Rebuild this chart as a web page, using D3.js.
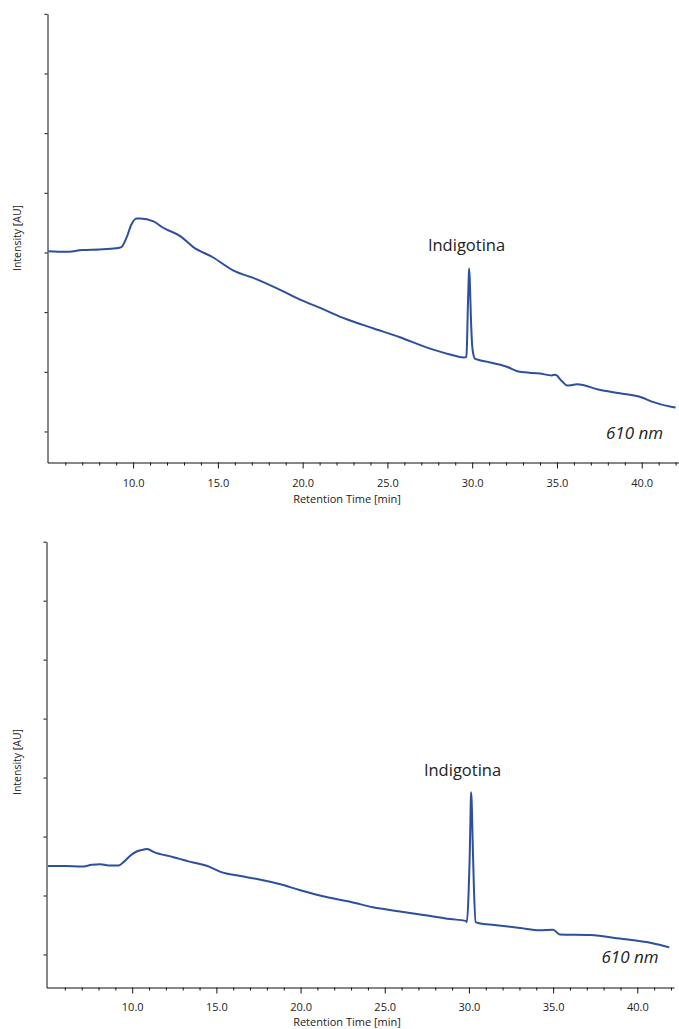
<!DOCTYPE html>
<html>
<head>
<meta charset="utf-8">
<script src="https://cdn.jsdelivr.net/npm/d3@7"></script>
<style>
  html, body { margin: 0; padding: 0; background: #fff; }
  svg { display: block; }
  text { font-family: "Open Sans", "Noto Sans", sans-serif; fill: #222; }
</style>
</head>
<body>
<script>
// ---------- data ----------
const peakLabel = "Indigotina";
const wavelengthLabel = "610 nm";
const xTitle = "Retention Time [min]";
const yTitle = "Intensity [AU]";

const majorTicks = [10, 15, 20, 25, 30, 35, 40];
const minorTicks = d3.range(6, 43).filter(t => t % 5 !== 0);
const yTicks = [0, 1, 2, 3, 4, 5, 6, 7];

// upper chromatogram
const topTime = [5.0, 6.0, 7.0, 8.0, 9.0, 9.3, 9.6, 9.9, 10.2, 10.43, 11.2, 11.8, 12.8, 13.55, 14.7,
  15.9, 17.3, 18.7, 19.7, 21.2, 22.6, 24.15, 25.74, 27.3, 28.7, 29.5, 29.66, 29.7, 29.74, 29.79,
  29.82, 29.86, 29.92, 30.0, 30.08, 30.16, 30.5, 31.0, 32.0, 32.8, 34.0, 34.7, 34.9, 35.3, 35.6,
  36.2, 37.5, 38.7, 40.0, 40.6, 41.8, 42.0];
const topIntensity = [3.02, 3.01, 3.04, 3.05, 3.07, 3.09, 3.24, 3.47, 3.57, 3.57, 3.52, 3.41, 3.27, 3.09, 2.92,
  2.70, 2.55, 2.37, 2.23, 2.05, 1.88, 1.73, 1.58, 1.41, 1.29, 1.24, 1.25, 1.53, 2.03, 2.53,
  2.73, 2.53, 1.95, 1.44, 1.28, 1.22, 1.19, 1.16, 1.09, 1.00, 0.97, 0.94, 0.95, 0.84, 0.77,
  0.79, 0.70, 0.64, 0.57, 0.50, 0.41, 0.40];

// lower chromatogram
const bottomTime = [5.0, 6.0, 7.0, 7.6, 8.1, 8.6, 9.2, 9.5, 9.9, 10.3, 10.7, 10.9, 11.26, 12.45, 13.46,
  14.47, 15.24, 16.43, 17.42, 18.8, 19.99, 21.6, 23.0, 24.3, 25.9, 27.3, 28.9, 29.8, 29.88, 29.98,
  30.04, 30.09, 30.12, 30.16, 30.22, 30.3, 30.4, 30.6, 31.5, 33.05, 34.2, 35.0, 35.4, 37.2, 38.96,
  40.9, 41.9];
const bottomIntensity = [1.50, 1.50, 1.49, 1.52, 1.53, 1.51, 1.51, 1.57, 1.68, 1.75, 1.78, 1.79, 1.74, 1.65, 1.57,
  1.50, 1.40, 1.33, 1.28, 1.19, 1.09, 0.97, 0.89, 0.80, 0.73, 0.67, 0.60, 0.57, 0.55, 1.04,
  1.60, 2.28, 2.75, 2.62, 1.94, 1.09, 0.55, 0.53, 0.50, 0.45, 0.41, 0.42, 0.34, 0.33, 0.27,
  0.19, 0.12];

// ---------- drawing ----------
const W = 679, H = 1029;
const svg = d3.select("body").append("svg").attr("width", W).attr("height", H);
const lineColor = "#2c4f9e";

function drawPanel(p) {
  const x = d3.scaleLinear().domain(p.xDomain).range([p.left, p.right]);
  const y = d3.scaleLinear().domain(p.yDomain).range([p.bottom, p.top]);
  const g = svg.append("g");

  // y axis
  const yAx = g.append("g").attr("transform", `translate(${p.left},0)`)
    .call(d3.axisLeft(y).tickValues(yTicks).tickSize(3).tickSizeOuter(0).tickFormat(""));
  yAx.selectAll("path, line").attr("stroke", "#111").attr("stroke-width", 1);

  // x axis: minor ticks
  const xMin = g.append("g").attr("transform", `translate(0,${p.bottom})`)
    .call(d3.axisBottom(x).tickValues(minorTicks).tickSize(3).tickSizeOuter(0).tickFormat(""));
  xMin.selectAll("path, line").attr("stroke", "#111").attr("stroke-width", 1);
  // x axis: major ticks + labels
  const xMaj = g.append("g").attr("transform", `translate(0,${p.bottom})`)
    .call(d3.axisBottom(x).tickValues(majorTicks).tickSize(6).tickSizeOuter(0).tickPadding(p.tickPad).tickFormat(d3.format(".1f")));
  xMaj.select(".domain").remove();
  xMaj.selectAll("line").attr("stroke", "#111").attr("stroke-width", 1);
  xMaj.selectAll("text").attr("font-size", 11).attr("font-family", "'Open Sans', sans-serif").attr("fill", "#222");

  // axis titles
  g.append("text").attr("x", 347).attr("y", p.bottom + p.titleOff).attr("text-anchor", "middle")
    .attr("font-size", 11).text(xTitle);
  g.append("text").attr("transform", `translate(21,${p.yTitleY}) rotate(-90)`)
    .attr("text-anchor", "middle").attr("font-size", 10.5).text(yTitle);

  // trace
  const line = d3.line().curve(d3.curveMonotoneX).x((d, i) => x(p.time[i])).y(d => y(d));
  g.append("path").datum(p.intensity).attr("d", line)
    .attr("fill", "none").attr("stroke", lineColor).attr("stroke-width", 2)
    .attr("stroke-linejoin", "round");

  // annotations
  g.append("text").attr("x", p.labelX).attr("y", p.labelY).attr("text-anchor", "middle")
    .attr("font-size", 16.5).text(peakLabel);
  g.append("text").attr("x", p.nmX).attr("y", p.nmY).attr("text-anchor", "start")
    .attr("font-size", 17).attr("font-style", "italic").text(wavelengthLabel);
}

drawPanel({
  time: topTime, intensity: topIntensity,
  xDomain: [4.95, 42.2], yDomain: [-0.52, 7],
  left: 47.5, right: 679, top: 13.8, bottom: 462.5,
  tickPad: 11, titleOff: 40, yTitleY: 238,
  labelX: 466.5, labelY: 250.5, nmX: 606, nmY: 439
});

drawPanel({
  time: bottomTime, intensity: bottomIntensity,
  xDomain: [4.91, 42.18], yDomain: [-0.56, 7],
  left: 46.5, right: 674, top: 541.7, bottom: 987.5,
  tickPad: 10, titleOff: 38, yTitleY: 762,
  labelX: 462.5, labelY: 776, nmX: 601.5, nmY: 962.5
});
</script>
</body>
</html>
